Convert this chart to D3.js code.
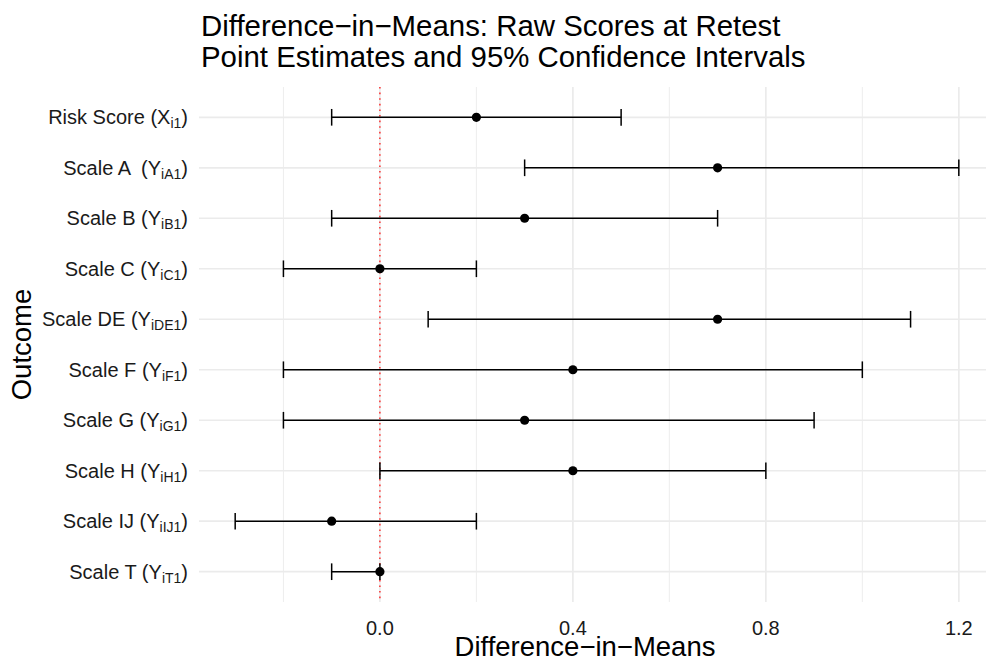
<!DOCTYPE html>
<html>
<head>
<meta charset="utf-8">
<script src="https://cdn.jsdelivr.net/npm/d3@7"></script>
<style>
  body { margin: 0; background: #fff; }
  svg { font-family: "Liberation Sans", Arial, sans-serif; display: block; }
  text { white-space: pre; }
</style>
</head>
<body>
<script>
// outcome labels, split into main text / subscript / closing part
var labelMain = ["Risk Score (X", "Scale A  (Y", "Scale B (Y", "Scale C (Y", "Scale DE (Y",
                 "Scale F (Y", "Scale G (Y", "Scale H (Y", "Scale IJ (Y", "Scale T (Y"];
var labelSub = ["i1", "iA1", "iB1", "iC1", "iDE1", "iF1", "iG1", "iH1", "iIJ1", "iT1"];
var estimates = [0.2, 0.7, 0.3, 0.0, 0.7, 0.4, 0.3, 0.4, -0.1, 0.0];
var lower = [-0.1, 0.3, -0.1, -0.2, 0.1, -0.2, -0.2, 0.0, -0.3, -0.1];
var upper = [0.5, 1.2, 0.7, 0.2, 1.1, 1.0, 0.9, 0.8, 0.2, 0.0];
var majorTicks = [0.0, 0.4, 0.8, 1.2];
var minorTicks = [-0.2, 0.2, 0.6, 1.0];
var titleLines = ["Difference\u2212in\u2212Means: Raw Scores at Retest",
                  "Point Estimates and 95% Confidence Intervals"];

var width = 986, height = 661;
var panel = { left: 199, right: 995, top: 87, bottom: 602 };

var svg = d3.select("body").append("svg")
    .attr("width", width)
    .attr("height", height);

var x = d3.scaleLinear().domain([-0.375, 1.275]).range([panel.left, panel.right]);
var y = d3.scalePoint().domain(d3.range(labelMain.length))
    .range([panel.top, panel.bottom]).padding(0.6);

/** gridlines **/
var grid = svg.append("g");
grid.selectAll(".minor").data(minorTicks).enter().append("line")
    .attr("x1", function (d) { return x(d); })
    .attr("x2", function (d) { return x(d); })
    .attr("y1", panel.top).attr("y2", panel.bottom)
    .attr("stroke", "#EBEBEB").attr("stroke-width", 0.9);
grid.selectAll(".major").data(majorTicks).enter().append("line")
    .attr("x1", function (d) { return x(d); })
    .attr("x2", function (d) { return x(d); })
    .attr("y1", panel.top).attr("y2", panel.bottom)
    .attr("stroke", "#EBEBEB").attr("stroke-width", 1.7);
grid.selectAll(".hmajor").data(labelMain).enter().append("line")
    .attr("x1", panel.left).attr("x2", panel.right)
    .attr("y1", function (d, i) { return y(i); })
    .attr("y2", function (d, i) { return y(i); })
    .attr("stroke", "#EBEBEB").attr("stroke-width", 1.7);

/** reference line at zero **/
svg.append("line")
    .attr("x1", x(0)).attr("x2", x(0))
    .attr("y1", panel.top).attr("y2", panel.bottom)
    .attr("stroke", "red").attr("stroke-width", 1.2)
    .attr("stroke-dasharray", "1.6,4");

/** error bars **/
var capHalf = y.step() * 0.165;
var bars = svg.append("g").selectAll("g").data(estimates).enter().append("g");
bars.append("line")
    .attr("x1", function (d, i) { return x(lower[i]); })
    .attr("x2", function (d, i) { return x(upper[i]); })
    .attr("y1", function (d, i) { return y(i); })
    .attr("y2", function (d, i) { return y(i); })
    .attr("stroke", "#000").attr("stroke-width", 1.5);
bars.append("line")
    .attr("x1", function (d, i) { return x(lower[i]); })
    .attr("x2", function (d, i) { return x(lower[i]); })
    .attr("y1", function (d, i) { return y(i) - capHalf; })
    .attr("y2", function (d, i) { return y(i) + capHalf; })
    .attr("stroke", "#000").attr("stroke-width", 1.5);
bars.append("line")
    .attr("x1", function (d, i) { return x(upper[i]); })
    .attr("x2", function (d, i) { return x(upper[i]); })
    .attr("y1", function (d, i) { return y(i) - capHalf; })
    .attr("y2", function (d, i) { return y(i) + capHalf; })
    .attr("stroke", "#000").attr("stroke-width", 1.5);
bars.append("circle")
    .attr("cx", function (d) { return x(d); })
    .attr("cy", function (d, i) { return y(i); })
    .attr("r", 4.6)
    .attr("fill", "#000");

/** y labels with subscripts **/
var ylab = svg.append("g").selectAll("text").data(labelMain).enter().append("text")
    .attr("x", panel.left - 11)
    .attr("y", function (d, i) { return y(i) + 7; })
    .attr("text-anchor", "end")
    .attr("font-size", 20)
    .attr("fill", "#1a1a1a");
ylab.append("tspan").text(function (d) { return d; });
ylab.append("tspan").attr("font-size", 14).attr("dy", 4)
    .text(function (d, i) { return labelSub[i]; });
ylab.append("tspan").attr("dy", -4).text(")");

/** x tick labels **/
svg.append("g").selectAll("text").data(majorTicks).enter().append("text")
    .attr("x", function (d) { return x(d); })
    .attr("y", 635)
    .attr("text-anchor", "middle")
    .attr("font-size", 20)
    .attr("fill", "#1a1a1a")
    .text(function (d) { return d3.format(".1f")(d); });

/** axis titles **/
svg.append("text")
    .attr("x", 585)
    .attr("y", 656)
    .attr("text-anchor", "middle")
    .attr("font-size", 27.5)
    .text("Difference\u2212in\u2212Means");

svg.append("text")
    .attr("transform", "translate(31," + ((panel.top + panel.bottom) / 2) + ") rotate(-90)")
    .attr("text-anchor", "middle")
    .attr("font-size", 27.5)
    .text("Outcome");

/** title **/
svg.append("g").selectAll("text").data(titleLines).enter().append("text")
    .attr("x", 201)
    .attr("y", function (d, i) { return 36 + i * 31; })
    .attr("font-size", 29.4)
    .text(function (d) { return d; });
</script>
</body>
</html>
